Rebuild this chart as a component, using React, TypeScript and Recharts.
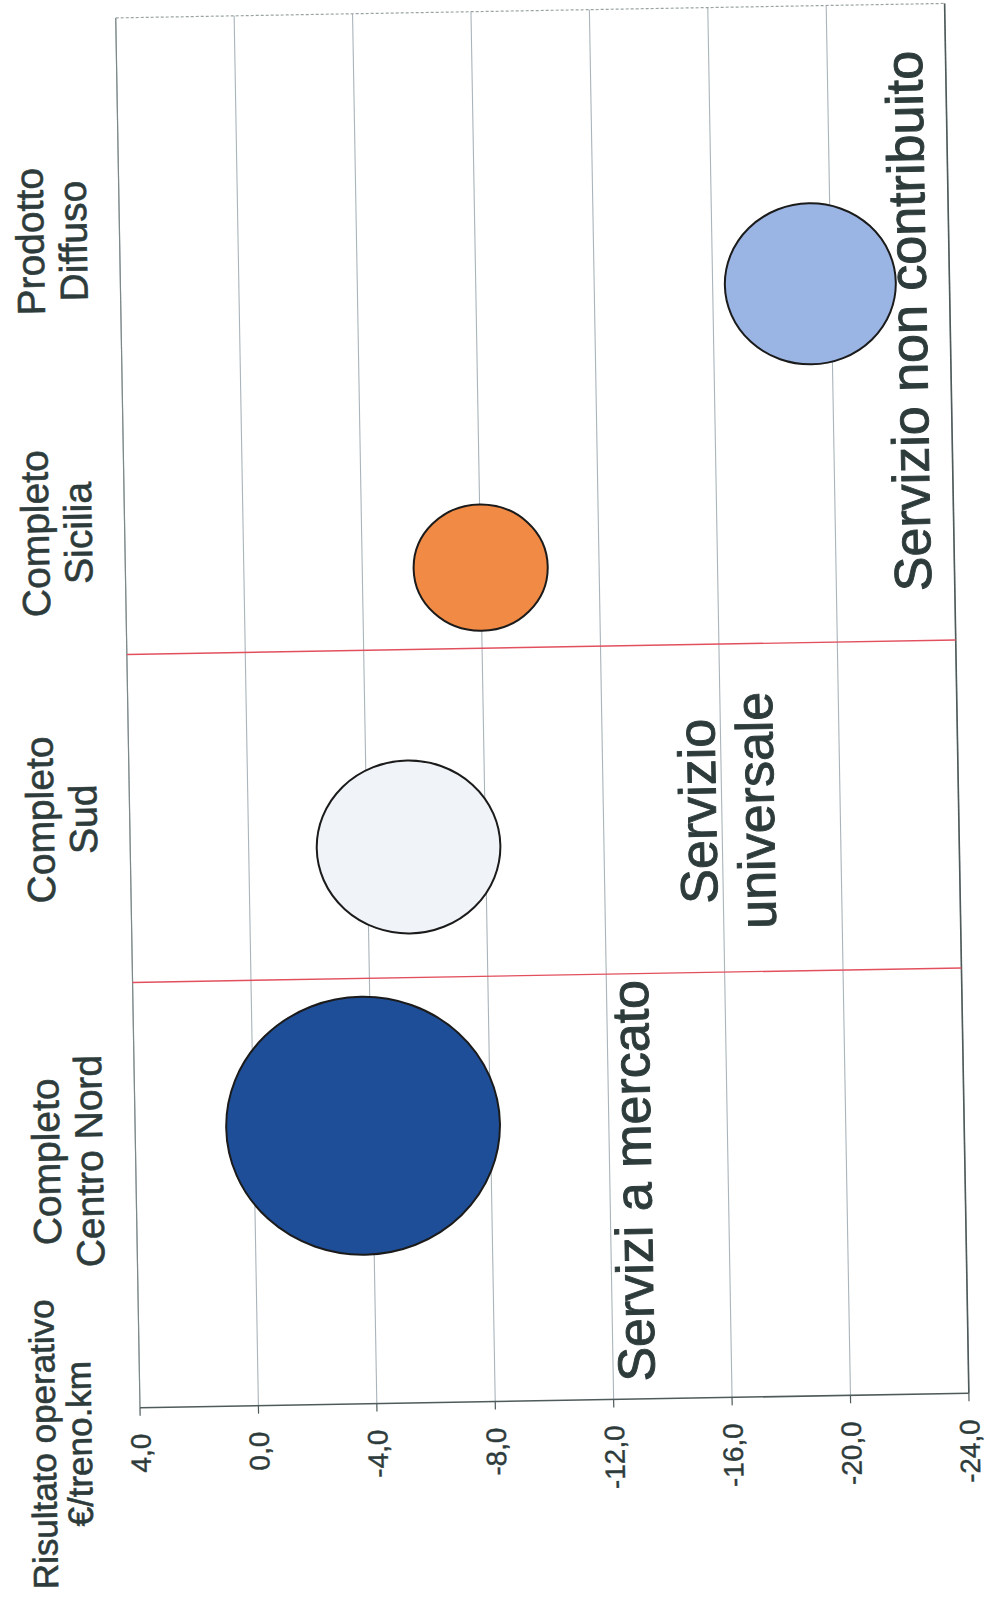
import React from 'react';
import {
  ScatterChart,
  Scatter,
  XAxis,
  YAxis,
  ZAxis,
  CartesianGrid,
  ReferenceLine,
  Cell,
} from 'recharts';

// Prodotti regionali: posizione sull'asse, risultato operativo e dimensione della bolla
const categories = [
  ['Completo', 'Centro Nord'],
  ['Completo', 'Sud'],
  ['Completo', 'Sicilia'],
  ['Prodotto', 'Diffuso'],
];
const positions = [1, 2, 3, 4];
const results = [-3.7, -5.4, -8.0, -19.3];
const sizes = [100, 45, 24, 39];
const bubbleColors = ['#1f4e98', '#f0f3f8', '#f08a44', '#9ab4e4'];

// etichette dei prodotti (caselle di testo sopra il grafico)
const labelPositions = [0.89, 2.12, 3.15, 4.2];

const yTicks = [4, 0, -4, -8, -12, -16, -20, -24];

// separatori tra le aree di servizio
const separators = [1.53, 2.71];

// titoli delle aree
const areaNames = [['Servizi a mercato'], ['Servizio', 'universale'], ['Servizio non contribuito']];
const areaX = [0.785, 2.11, 3.86];
const areaY = [-13.4, -15.8, -23.2];

const bubbles = positions.map((x, i) => ({ x, y: results[i], z: sizes[i] }));
const areas = areaNames.map((lines, i) => ({ x: areaX[i], y: areaY[i], lines }));

const FONT = '"Liberation Sans", Arial, sans-serif';
const TEXT = '#2e3b3b';

const formatTick = (v: number) => v.toFixed(1).replace('.', ',');

function CategoryTick(props: any) {
  const { x, y, index } = props;
  const lines = categories[index] || [];
  return (
    <text
      x={x}
      y={y}
      textAnchor="middle"
      fontSize={39}
      fill={TEXT}
      stroke={TEXT}
      strokeWidth={0.6}
      fontFamily={FONT}
    >
      {lines.map((l, i) => (
        <tspan key={i} x={x} y={y - 76 + i * 43}>
          {l}
        </tspan>
      ))}
    </text>
  );
}

function AxisTitle(props: any) {
  const { x, y, width } = props.viewBox;
  const cx = x + width - 35;
  return (
    <text
      x={cx}
      y={y}
      textAnchor="middle"
      fontSize={35}
      fill={TEXT}
      stroke={TEXT}
      strokeWidth={0.6}
      fontFamily={FONT}
    >
      <tspan x={cx} y={y - 85}>Risultato operativo</tspan>
      <tspan x={cx} y={y - 49}>€/treno.km</tspan>
    </text>
  );
}

// bolla leggermente ellittica
function Bubble(props: any) {
  const { cx, cy, fill } = props;
  const r = props.width ? props.width / 2 : Math.sqrt(props.size / Math.PI);
  return <ellipse cx={cx} cy={cy} rx={r * 0.97} ry={r * 1.03} fill={fill} stroke="#1b1b1b" strokeWidth={2} />;
}

function AreaText(props: any) {
  const { cx, cy, payload } = props;
  return (
    <text
      x={cx}
      y={cy}
      textAnchor="middle"
      fontSize={52}
      fill={TEXT}
      stroke={TEXT}
      strokeWidth={0.9}
      fontFamily={FONT}
    >
      {payload.lines.map((l: string, i: number) => (
        <tspan key={i} x={cx} y={cy + i * 58}>
          {l}
        </tspan>
      ))}
    </text>
  );
}

export default function App() {
  return (
    <div
      style={{
        position: 'absolute',
        left: 0,
        top: 0,
        width: 985,
        height: 1606,
        overflow: 'hidden',
        background: '#fff',
      }}
    >
      <div
        style={{
          position: 'absolute',
          left: -313.5,
          top: 310.5,
          width: 1606,
          height: 985,
          transform: 'rotate(-91deg)',
          transformOrigin: 'center center',
        }}
      >
        <ScatterChart width={1606} height={985} margin={{ top: 0, right: 11, bottom: 24, left: 0 }}>
          <CartesianGrid vertical={false} stroke="#aab4bb" strokeWidth={1.1} />
          <XAxis
            type="number"
            dataKey="x"
            orientation="top"
            domain={[0, 5]}
            ticks={labelPositions}
            interval={0}
            height={132}
            axisLine={false}
            tickLine={false}
            tickSize={0}
            tickMargin={0}
            tick={<CategoryTick />}
            allowDataOverflow
          />
          <YAxis
            type="number"
            dataKey="y"
            domain={[-24, 4]}
            ticks={yTicks}
            interval={0}
            width={205}
            tickFormatter={formatTick}
            tick={{ fontSize: 28, fill: TEXT, stroke: TEXT, strokeWidth: 0.4, fontFamily: FONT }}
            tickSize={8}
            tickMargin={18}
            axisLine={{ stroke: '#4f5a5a', strokeWidth: 1.6 }}
            tickLine={{ stroke: '#4f5a5a', strokeWidth: 1.2 }}
            label={<AxisTitle />}
          />
          <ZAxis type="number" dataKey="z" domain={[0, 100]} range={[0, 55490]} />
          <ReferenceLine y={4} stroke="#7d8888" strokeWidth={1.2} />
          <ReferenceLine y={-24} stroke="#4f5a5a" strokeWidth={1.6} />
          <ReferenceLine x={5} stroke="#9aa4a4" strokeWidth={1.2} strokeDasharray="3 2" />
          {separators.map((s) => (
            <ReferenceLine key={s} x={s} stroke="#e2505e" strokeWidth={1.4} />
          ))}
          <Scatter data={bubbles} shape={<Bubble />} isAnimationActive={false}>
            {bubbles.map((b, i) => (
              <Cell key={i} fill={bubbleColors[i]} />
            ))}
          </Scatter>
          <Scatter data={areas} shape={<AreaText />} isAnimationActive={false} />
        </ScatterChart>
      </div>
    </div>
  );
}
